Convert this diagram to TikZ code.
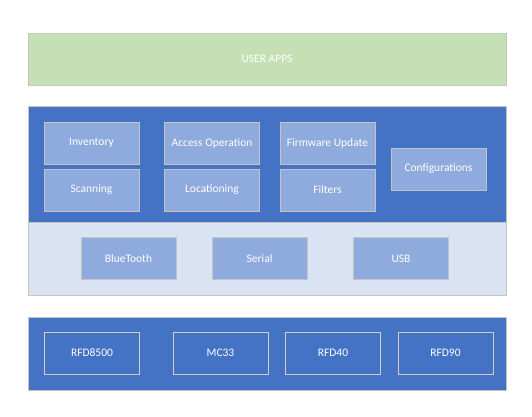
\documentclass[tikz,border=0pt]{standalone}
\usepackage{fontspec}
\setmainfont{Carlito}
\definecolor{appgreen}{HTML}{C5E0B4}
\definecolor{stackblue}{HTML}{4472C4}
\definecolor{busblue}{HTML}{DAE3F3}
\definecolor{modblue}{HTML}{8FAADC}
\definecolor{edgegrey}{HTML}{C4C4C4}
\definecolor{edgesand}{HTML}{D5CEC0}
\begin{document}
\begin{tikzpicture}[x=1bp,y=-1bp,
  every node/.style={inner sep=0pt,text=white,font=\fontsize{11.5bp}{13bp}\selectfont},
  layer/.style={draw=edgegrey,line width=0.8bp,minimum width=478bp},
  module/.style={draw=edgegrey,fill=modblue,line width=0.8bp,minimum width=95bp,minimum height=42bp},
  device/.style={draw=edgesand,fill=stackblue,line width=0.8bp,minimum width=95bp,minimum height=42bp}]
\useasboundingbox (0,0) rectangle (532,416);
\node [layer,fill=appgreen,minimum height=52bp] (apps) at (267,59) {USER APPS};
\node [layer,fill=stackblue,minimum height=116bp] (sdk) at (267,164) {};
\node [layer,fill=busblue,minimum height=73.5bp] (bus) at (267,258.75) {};
\node [layer,fill=stackblue,minimum height=73bp] (hw) at (267,353.4) {};
\node [module] (inv) at (91.5,143) {Inventory};
\node [module] (scan) at (91.5,190) {Scanning};
\node [module] (acc) at (212,143) {Access Operation};
\node [module] (loc) at (212,190) {Locationing};
\node [module] (fw) at (327.5,143) {Firmware Update};
\node [module] (filt) at (327.5,190) {Filters};
\node [module] (conf) at (438.5,169) {Configurations};
\node [module] (bt) at (128.5,258.5) {BlueTooth};
\node [module] (ser) at (259.5,258.5) {Serial};
\node [module] (usb) at (401,258.5) {USB};
\node [device] (r85) at (92,353) {RFD8500};
\node [device] (mc) at (220.5,353) {MC33};
\node [device] (r40) at (333,353) {RFD40};
\node [device] (r90) at (445.5,353) {RFD90};
\end{tikzpicture}
\end{document}
